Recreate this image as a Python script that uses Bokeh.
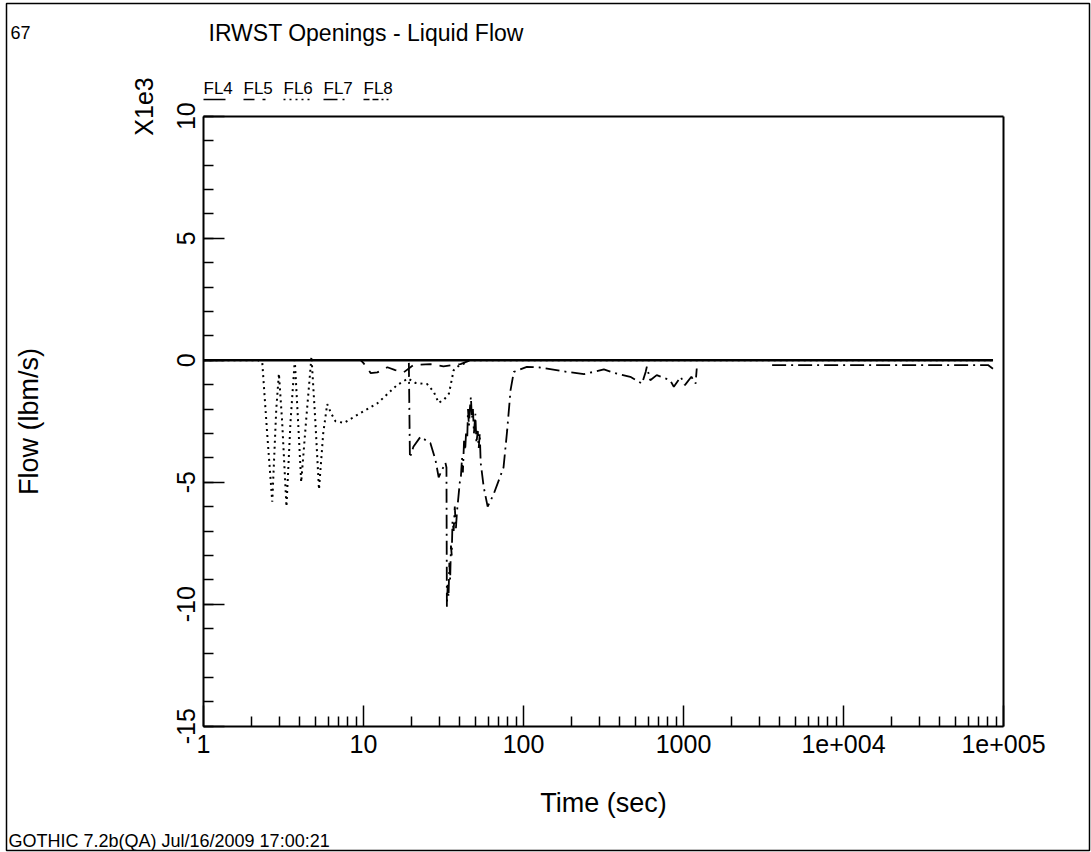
import math
from bokeh.plotting import figure
from bokeh.models import (Range1d, FixedTicker, Label, Arrow, ColumnDataSource,
                          LogAxis, LinearAxis)
from bokeh.embed import file_html
from bokeh.resources import INLINE

nan = float("nan")

# ---------------- data ----------------
SERIES_NAMES = ["FL4", "FL5", "FL6", "FL7", "FL8"]

X_TICKS = [1, 10, 100, 1000, 10000, 100000]
X_TICK_LABELS = ["1", "10", "100", "1000", "1e+004", "1e+005"]
Y_TICKS = [-15, -10, -5, 0, 5, 10]
Y_TICK_LABELS = ["-15", "-10", "-5", "0", "5", "10"]

# time (sec) / flow (x1e3 lbm/s)
T_FL4 = [1, 86000]
Y_FL4 = [0, 0]

T_FL5 = [1, 9.6, 10, 11.1, 12.2, 14.1, 15.8, 17.8, 20.5, 26.2, 31.6, 40.4, 46.6, 86000]
Y_FL5 = [0, 0, -0.12, -0.53, -0.5, -0.29, -0.41, -0.5, -0.2, -0.16, -0.25, -0.16, 0, 0]

T_FL6 = [1, 2.2, 2.33, 2.5, 2.69, 2.85, 2.96, 3.1, 3.3, 3.5, 3.72, 3.9, 4.08, 4.4, 4.73,
         5.0, 5.27, 5.6, 5.93, 6.3, 6.68, 7.55, 9.1, 12.2, 16.2, 19.0, 21.1, 25.0, 27.5,
         29.5, 32.0, 34.2, 36.6, 39.0, 42.4, 46.0, 86000]
Y_FL6 = [0, 0, -0.1, -3.0, -5.8, -2.0, -0.55, -2.5, -6.0, -2.5, 0.0, -2.5, -5.0, -2.3, 0.15,
         -2.5, -5.3, -3.0, -1.8, -2.2, -2.5, -2.57, -2.25, -1.77, -1.02, -0.75, -0.93, -0.98, -1.3,
         -1.75, -1.6, -1.37, -0.41, -0.25, -0.14, 0, 0]

T_FL7 = [1, 19.2, 19.5, 20.5, 22.7, 26.2, 28.2, 29.5, 32.5, 33.0, 33.2, 33.6, 34.0, 34.4,
         34.8, 35.2, 35.6, 36.0, 36.6, 37.2, 37.8, 38.4, 39.2, 40.0, 40.6, 41.3, 41.8, 42.5,
         43.2, 43.8, 44.5, 45.0, 45.6, 46.2, 46.9, 47.6, 48.3, 49.0, 50.0, 50.8, 51.8, 52.5,
         53.3, 54.0, 56.4, 59.7, 65, 75, 79, 83, 87, 105, 127, 187, 239, 318, 384, 465, 550,
         580, 590, 620, 680, 825, 870, 960, 1020, 1120, 1190, 1210, 2000, 3580, 80000, 86000]
Y_FL7 = [0, 0, -4.0, -3.55, -3.14, -3.4, -4.1, -4.8, -4.2, -4.4, -10.1, -9.2, -9.7, -8.3,
         -9.0, -7.6, -8.0, -6.6, -7.0, -6.0, -6.9, -6.2, -5.6, -5.0, -4.8, -4.0, -4.6, -3.3,
         -3.7, -2.9, -3.2, -2.0, -2.7, -2.0, -1.5, -2.4, -2.0, -3.0, -2.2, -3.4, -2.9, -3.6,
         -3.0, -4.2, -5.2, -6.0, -5.5, -4.4, -2.9, -1.23, -0.48, -0.27, -0.3, -0.48, -0.57, -0.38, -0.55, -0.68, -0.96,
         -0.48, -0.27, -0.82, -0.61, -0.82, -1.09, -0.68, -1.02, -0.68, -0.96, -0.34, nan, -0.2, -0.2, -0.35]

T_FL8 = [1, 86000]
Y_FL8 = [0, 0]

SERIES_T = [T_FL4, T_FL5, T_FL6, T_FL7, T_FL8]
SERIES_Y = [Y_FL4, Y_FL5, Y_FL6, Y_FL7, Y_FL8]
DASHES = ["solid", "11 8", "2 4", "14 5 2 5", "6 3 6 3 2 3"]
WIDTHS = [2.4, 1.8, 2.0, 1.8, 1.8]

X_MIN, X_MAX = 1, 1e5
Y_MIN, Y_MAX = -15, 10

# ---------------- layout ----------------
W, H = 1091, 852
# page border (= bokeh frame) in canvas pixels
BL, BT, BR, BB = 6, 3, 1089, 850
# inner plotting box in canvas pixels
PL, PR, PT, PB = 203.0, 1003.0, 115.7, 725.7

px_per_dec = (PR - PL) / (math.log10(X_MAX) - math.log10(X_MIN))
px_per_unit = (PB - PT) / (Y_MAX - Y_MIN)
x_lo = 10 ** (math.log10(X_MIN) - (PL - BL) / px_per_dec)
x_hi = 10 ** (math.log10(X_MAX) + (BR - PR) / px_per_dec)
y_hi = Y_MAX + (PT - BT) / px_per_unit
y_lo = Y_MIN - (BB - PB) / px_per_unit

FONT = "Liberation Sans"

p = figure(width=W, height=H, x_axis_type="log",
           x_range=Range1d(x_lo, x_hi), y_range=Range1d(y_lo, y_hi),
           output_backend="svg", toolbar_location=None,
           min_border_left=BL, min_border_right=W - BR,
           min_border_top=BT, min_border_bottom=H - BB)
p.xgrid.visible = False
p.ygrid.visible = False
p.background_fill_color = "white"
p.border_fill_color = "white"
p.outline_line_color = "black"
p.outline_line_width = 1.5

xa = p.below[0]
ya = p.left[0]
xa.fixed_location = Y_MIN
xa.bounds = (X_MIN, X_MAX)
ya.fixed_location = X_MIN
ya.bounds = (Y_MIN, Y_MAX)

minor_x = [k * 10 ** d for d in range(0, 5) for k in range(2, 10)]
xa.ticker = FixedTicker(ticks=X_TICKS, minor_ticks=minor_x)
xa.major_label_overrides = dict(zip(X_TICKS, X_TICK_LABELS))
ya.ticker = FixedTicker(ticks=Y_TICKS, minor_ticks=list(range(Y_MIN, Y_MAX + 1)))
ya.major_label_overrides = dict(zip(Y_TICKS, Y_TICK_LABELS))
ya.major_label_orientation = "vertical"

for ax in (xa, ya):
    ax.axis_line_color = "black"
    ax.axis_line_width = 2
    ax.major_tick_in = 21
    ax.major_tick_out = 0
    ax.minor_tick_in = 10
    ax.minor_tick_out = 0
    ax.major_tick_line_color = "black"
    ax.minor_tick_line_color = "black"
    ax.major_tick_line_width = 1.5
    ax.minor_tick_line_width = 1.5
    ax.major_label_text_font = FONT
    ax.major_label_text_font_size = "25px"
    ax.major_label_text_color = "black"
xa.major_label_standoff = 9
ya.major_label_standoff = 8

# top and right edges of the plotting box
top_ax = LogAxis(fixed_location=Y_MAX, bounds=(X_MIN, X_MAX), ticker=FixedTicker(ticks=[]),
                 axis_line_color="black", axis_line_width=2,
                 major_tick_in=0, major_tick_out=0, minor_tick_in=0, minor_tick_out=0)
right_ax = LinearAxis(fixed_location=X_MAX, bounds=(Y_MIN, Y_MAX), ticker=FixedTicker(ticks=[]),
                      axis_line_color="black", axis_line_width=2,
                      major_tick_in=0, major_tick_out=0, minor_tick_in=0, minor_tick_out=0)
p.add_layout(top_ax, "above")
p.add_layout(right_ax, "right")

for name, t, y, dash, w in zip(SERIES_NAMES, SERIES_T, SERIES_Y, DASHES, WIDTHS):
    src = ColumnDataSource(dict(t=t, y=y))
    p.line("t", "y", source=src, line_color="black", line_width=w, line_dash=dash)


def sx(cx):
    return cx - BL


def sy(cy):
    return BB - cy


def lab(cx, cy, text, size, align="left", baseline="middle", angle=0.0):
    p.add_layout(Label(x=sx(cx), y=sy(cy), x_units="screen", y_units="screen", text=text,
                       text_font=FONT, text_font_size=f"{size}px", text_align=align,
                       text_baseline=baseline, angle=angle, text_color="black"))


def seg(x0, y0, x1, y1, dash="solid", width=1.5):
    p.add_layout(Arrow(x_start=sx(x0), y_start=sy(y0), x_end=sx(x1), y_end=sy(y1),
                       start_units="screen", end_units="screen", start=None, end=None,
                       line_color="black", line_width=width, line_dash=dash))


# texts
lab(10, 32, "67", 18)
lab(208, 32, "IRWST Openings - Liquid Flow", 23)
lab(143, 106, "X1e3", 25, align="center", angle=math.pi / 2)
lab(28, 421, "Flow (lbm/s)", 27, align="center", angle=math.pi / 2)
lab(603, 802, "Time (sec)", 27, align="center")
lab(8, 840, "GOTHIC 7.2b(QA) Jul/16/2009 17:00:21", 18)

# legend: names with line samples beneath
LEG_X = [203, 243, 283, 323, 363]
LEG_W = [22, 22, 29, 22, 25]
for name, x0, w, dash in zip(SERIES_NAMES, LEG_X, LEG_W, DASHES):
    lab(x0, 88, name, 17)
    seg(x0, 99, x0 + w, 99, dash=dash, width=1.6)

open("out.html", "w").write(file_html(p, INLINE))
